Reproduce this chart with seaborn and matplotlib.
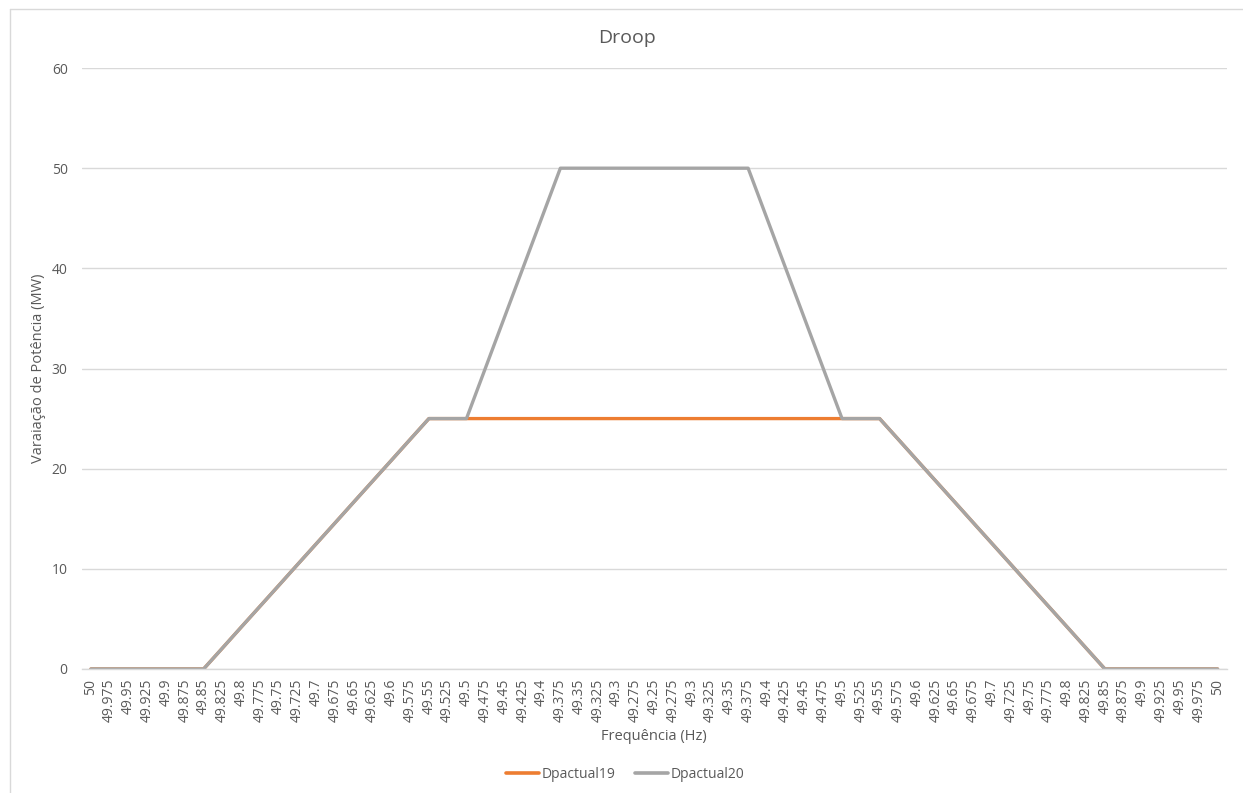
import matplotlib
matplotlib.use("Agg")
import matplotlib.pyplot as plt
from matplotlib.lines import Line2D
import numpy as np
import pandas as pd
import seaborn as sns

# Frequency sweep: 50 Hz down to 49.25 Hz and back up to 50 Hz
freq_labels = [
    "50", "49.975", "49.95", "49.925", "49.9", "49.875", "49.85", "49.825",
    "49.8", "49.775", "49.75", "49.725", "49.7", "49.675", "49.65", "49.625",
    "49.6", "49.575", "49.55", "49.525", "49.5", "49.475", "49.45", "49.425",
    "49.4", "49.375", "49.35", "49.325", "49.3", "49.275", "49.25",
    "49.275", "49.3", "49.325", "49.35", "49.375", "49.4", "49.425", "49.45",
    "49.475", "49.5", "49.525", "49.55", "49.575", "49.6", "49.625", "49.65",
    "49.675", "49.7", "49.725", "49.75", "49.775", "49.8", "49.825", "49.85",
    "49.875", "49.9", "49.925", "49.95", "49.975", "50",
]

dpactual19 = [
    0, 0, 0, 0, 0, 0, 0, 2.08,
    4.17, 6.25, 8.33, 10.42, 12.5, 14.58, 16.67, 18.75,
    20.83, 22.92, 25, 25, 25, 25, 25, 25,
    25, 25, 25, 25, 25, 25, 25,
    25, 25, 25, 25, 25, 25, 25, 25,
    25, 25, 25, 25, 22.92, 20.83, 18.75, 16.67,
    14.58, 12.5, 10.42, 8.33, 6.25, 4.17, 2.08, 0,
    0, 0, 0, 0, 0, 0,
]

dpactual20 = [
    0, 0, 0, 0, 0, 0, 0, 2.08,
    4.17, 6.25, 8.33, 10.42, 12.5, 14.58, 16.67, 18.75,
    20.83, 22.92, 25, 25, 25, 30, 35, 40,
    45, 50, 50, 50, 50, 50, 50,
    50, 50, 50, 50, 50, 45, 40, 35,
    30, 25, 25, 25, 22.92, 20.83, 18.75, 16.67,
    14.58, 12.5, 10.42, 8.33, 6.25, 4.17, 2.08, 0,
    0, 0, 0, 0, 0, 0,
]

series_names = ["Dpactual19", "Dpactual20"]
series_colors = ["#ED7D31", "#A5A5A5"]

pos = np.arange(len(freq_labels))
df = pd.concat([
    pd.DataFrame({"pos": pos, "valor": dpactual19, "serie": series_names[0]}),
    pd.DataFrame({"pos": pos, "valor": dpactual20, "serie": series_names[1]}),
])

sns.set_style("white")
plt.rcParams["font.family"] = ["Open Sans", "DejaVu Sans"]

text_color = "#595959"
grid_color = "#D9D9D9"

fig = plt.figure(figsize=(12.43, 7.93), dpi=100)
ax = fig.add_axes([0.0656, 0.1564, 0.9215, 0.7578])

sns.lineplot(
    data=df, x="pos", y="valor", hue="serie",
    palette=dict(zip(series_names, series_colors)),
    linewidth=2.4, ax=ax, legend=False, sort=False,
)

ax.set_xlim(-0.5, len(freq_labels) - 0.5)
ax.set_ylim(0, 60)
ax.set_yticks(np.arange(0, 61, 10))
ax.set_xticks(pos)
ax.set_xticklabels(freq_labels, rotation=90)
ax.tick_params(axis="x", length=0, labelsize=10, colors=text_color, pad=7)
ax.tick_params(axis="y", length=0, labelsize=10, colors=text_color, pad=10)
ax.yaxis.grid(True, color=grid_color, linewidth=1)
ax.set_axisbelow(True)
for side in ["top", "right", "left"]:
    ax.spines[side].set_visible(False)
ax.spines["bottom"].set_color(grid_color)
ax.spines["bottom"].set_linewidth(1)

fig.text(627 / 1243, 1 - 38 / 793, "Droop", fontsize=14, color=text_color,
         ha="center", va="center")
ax.set_xlabel("Frequência (Hz)", fontsize=10.5, color=text_color, labelpad=5)
ax.set_ylabel("Varaiação de Potência (MW)", fontsize=10.5, color=text_color, labelpad=4)

handles = [Line2D([0], [0], color=c, linewidth=2.6) for c in series_colors]
fig.legend(handles, series_names, loc="center", bbox_to_anchor=(0.503, 0.023),
           ncol=2, frameon=False, fontsize=10, labelcolor=text_color,
           handlelength=2.4, handletextpad=0.2, columnspacing=1.4)

# Chart-area outline (left and top edges)
fig.add_artist(Line2D([10 / 1243, 10 / 1243], [0, 1 - 9 / 793],
                      transform=fig.transFigure, color=grid_color, linewidth=1))
fig.add_artist(Line2D([10 / 1243, 1], [1 - 9 / 793, 1 - 9 / 793],
                      transform=fig.transFigure, color=grid_color, linewidth=1))

fig.savefig("out.png", dpi=100, facecolor="white")
